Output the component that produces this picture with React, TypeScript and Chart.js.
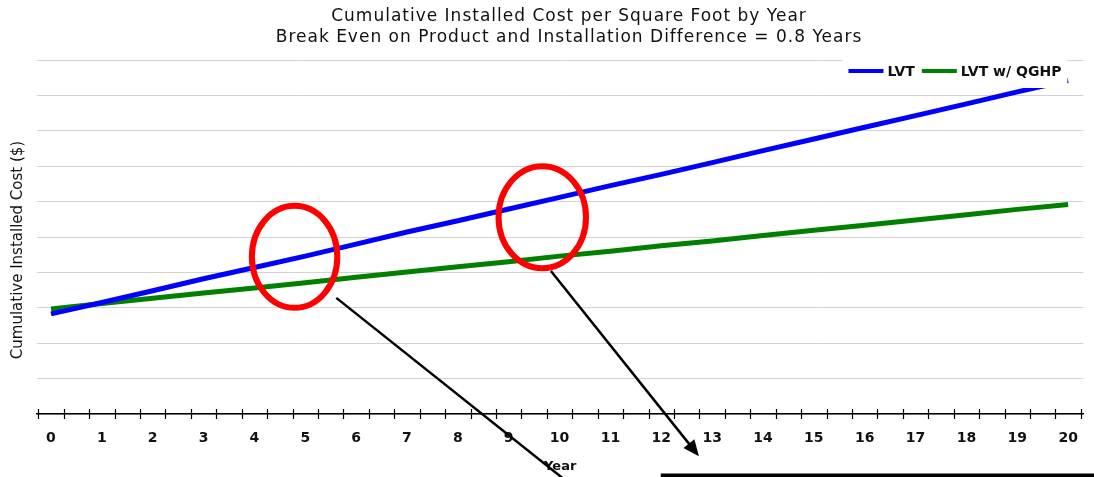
import React, { useEffect, useRef } from "react";
import { Chart, registerables } from "chart.js";

Chart.register(...registerables);

// ---------- data ----------
const YEARS = [0, 1, 2, 3, 4, 5, 6, 7, 8, 9, 10, 11, 12, 13, 14, 15, 16, 17, 18, 19, 20];
const LVT = [2.83, 3.15, 3.48, 3.82, 4.14, 4.46, 4.80, 5.14, 5.46, 5.79, 6.12, 6.45, 6.77, 7.10, 7.44, 7.77, 8.10, 8.43, 8.76, 9.10, 9.42];
const LVT_QGHP = [2.97, 3.12, 3.27, 3.42, 3.56, 3.71, 3.86, 4.01, 4.16, 4.30, 4.46, 4.60, 4.75, 4.89, 5.04, 5.19, 5.33, 5.48, 5.63, 5.78, 5.92];
const SERIES_NAMES = ["LVT", "LVT w/ QGHP"];
const SERIES_COLORS = ["#0000FF", "#008000"];
const TITLE_LINES = [
  "Cumulative Installed Cost per Square Foot by Year",
  "Break Even on Product and Installation Difference = 0.8 Years",
];
const X_TITLE = "Year";
const Y_TITLE = "Cumulative Installed Cost ($)";
const Y_MIN = 0;
const Y_MAX = 10;
const X_MIN = -0.275;
const X_MAX = 20.3;

// annotation shapes, in data units
const ELLIPSES = [
  { x: 4.79, y: 4.44, rx: 0.84, ry: 1.44 },
  { x: 9.66, y: 5.56, rx: 0.86, ry: 1.44 },
];
const ARROWS = [
  { x1: 5.61, y1: 3.28, x2: 10.4, y2: -2.2, head: false },
  { x1: 9.83, y1: 4.04, x2: 12.74, y2: -1.19, head: true },
];
const BOTTOM_RULE = { x1: 11.99, x2: 20.6, y: -1.73 };

const FONT = '"DejaVu Sans", Verdana, sans-serif';

const decorPlugin = {
  id: "decor",
  afterDraw(chart: any) {
    const { ctx, chartArea, scales } = chart;
    const xs = scales.x;
    const ys = scales.y;
    ctx.save();

    // title
    ctx.fillStyle = "#111";
    ctx.font = `17px ${FONT}`;
    (ctx as any).letterSpacing = "1px";
    ctx.textAlign = "center";
    ctx.textBaseline = "middle";
    const cx = 569;
    ctx.fillText(TITLE_LINES[0], cx, 17);
    ctx.fillText(TITLE_LINES[1], cx, 38);
    (ctx as any).letterSpacing = "0px";

    // y title
    ctx.save();
    ctx.translate(18, 250);
    ctx.rotate(-Math.PI / 2);
    ctx.font = `15px ${FONT}`;
    ctx.fillStyle = "#111";
    ctx.textAlign = "center";
    ctx.textBaseline = "middle";
    ctx.fillText(Y_TITLE, 0, 0);
    ctx.restore();

    // x-axis tick marks (half-year offsets around each label)
    ctx.strokeStyle = "#000";
    ctx.lineWidth = 1.2;
    const axisY = ys.getPixelForValue(Y_MIN);
    YEARS.forEach((v) => {
      [v - 0.25, v + 0.25].forEach((t) => {
        const px = Math.round(xs.getPixelForValue(t)) + 0.5;
        ctx.beginPath();
        ctx.moveTo(px, axisY - 5);
        ctx.lineTo(px, axisY + 5);
        ctx.stroke();
      });
    });

    // legend
    ctx.font = `bold 14px ${FONT}`;
    const w0 = ctx.measureText(SERIES_NAMES[0]).width;
    const w1 = ctx.measureText(SERIES_NAMES[1]).width;
    const lineLen = 35;
    const gap = 4;
    const itemGap = 7;
    const total = lineLen + gap + w0 + itemGap + lineLen + gap + w1;
    const right = chartArea.right - 22;
    const left = right - total;
    const ly = 71;
    ctx.fillStyle = "#fff";
    ctx.fillRect(left - 6, 58, total + 12, 30);
    let lx = left;
    SERIES_NAMES.forEach((name, i) => {
      ctx.strokeStyle = SERIES_COLORS[i];
      ctx.lineWidth = 4;
      ctx.beginPath();
      ctx.moveTo(lx, ly);
      ctx.lineTo(lx + lineLen, ly);
      ctx.stroke();
      lx += lineLen + gap;
      ctx.fillStyle = "#111";
      ctx.textAlign = "left";
      ctx.textBaseline = "middle";
      ctx.fillText(name, lx, ly + 1);
      lx += (i === 0 ? w0 : w1) + itemGap;
    });

    // red ellipses
    ctx.strokeStyle = "#FF0000";
    ctx.lineWidth = 6;
    ELLIPSES.forEach((e) => {
      const px = xs.getPixelForValue(e.x);
      const py = ys.getPixelForValue(e.y);
      const rx = Math.abs(xs.getPixelForValue(e.x + e.rx) - px);
      const ry = Math.abs(ys.getPixelForValue(e.y + e.ry) - py);
      ctx.beginPath();
      ctx.ellipse(px, py, rx, ry, 0, 0, Math.PI * 2);
      ctx.stroke();
    });

    // arrows
    ctx.strokeStyle = "#000";
    ctx.fillStyle = "#000";
    ctx.lineWidth = 2.5;
    ARROWS.forEach((a) => {
      const x1 = xs.getPixelForValue(a.x1);
      const y1 = ys.getPixelForValue(a.y1);
      const x2 = xs.getPixelForValue(a.x2);
      const y2 = ys.getPixelForValue(a.y2);
      const ang = Math.atan2(y2 - y1, x2 - x1);
      const hl = 16;
      const hw = 7;
      const ex = a.head ? x2 - Math.cos(ang) * hl * 0.8 : x2;
      const ey = a.head ? y2 - Math.sin(ang) * hl * 0.8 : y2;
      ctx.beginPath();
      ctx.moveTo(x1, y1);
      ctx.lineTo(ex, ey);
      ctx.stroke();
      if (a.head) {
        const bx = x2 - Math.cos(ang) * hl;
        const by = y2 - Math.sin(ang) * hl;
        ctx.beginPath();
        ctx.moveTo(x2, y2);
        ctx.lineTo(bx + Math.sin(ang) * hw, by - Math.cos(ang) * hw);
        ctx.lineTo(bx - Math.sin(ang) * hw, by + Math.cos(ang) * hw);
        ctx.closePath();
        ctx.fill();
      }
    });

    // bottom rule
    ctx.lineWidth = 3.5;
    ctx.beginPath();
    const ry0 = ys.getPixelForValue(BOTTOM_RULE.y);
    ctx.moveTo(xs.getPixelForValue(BOTTOM_RULE.x1), ry0);
    ctx.lineTo(xs.getPixelForValue(BOTTOM_RULE.x2), ry0);
    ctx.stroke();

    ctx.restore();
  },
};

export default function App() {
  const canvasRef = useRef<HTMLCanvasElement | null>(null);

  useEffect(() => {
    if (!canvasRef.current) return;
    const chart = new Chart(canvasRef.current, {
      type: "line",
      data: {
        datasets: [
          {
            label: SERIES_NAMES[0],
            data: YEARS.map((x, i) => ({ x, y: LVT[i] })),
            borderColor: SERIES_COLORS[0],
            backgroundColor: SERIES_COLORS[0],
            borderWidth: 5,
            pointRadius: 0,
            tension: 0,
          },
          {
            label: SERIES_NAMES[1],
            data: YEARS.map((x, i) => ({ x, y: LVT_QGHP[i] })),
            borderColor: SERIES_COLORS[1],
            backgroundColor: SERIES_COLORS[1],
            borderWidth: 5,
            pointRadius: 0,
            tension: 0,
          },
        ],
      },
      options: {
        responsive: false,
        animation: false,
        devicePixelRatio: 1,
        layout: { padding: { top: 60, right: 8, left: 0, bottom: 0 } },
        plugins: {
          legend: { display: false },
          title: { display: false },
          tooltip: { enabled: false },
        },
        scales: {
          x: {
            type: "linear",
            min: X_MIN,
            max: X_MAX,
            afterBuildTicks: (s: any) => {
              s.ticks = YEARS.map((v) => ({ value: v }));
            },
            grid: { display: false, drawTicks: false },
            border: { display: true, color: "#000", width: 1.5 },
            ticks: {
              color: "#111",
              font: { family: FONT, size: 14, weight: "bold" },
              padding: 16,
              autoSkip: false,
              maxRotation: 0,
              callback: (v: any) => String(v),
            },
            title: {
              display: true,
              text: X_TITLE,
              color: "#111",
              font: { family: FONT, size: 13, weight: "bold" },
              padding: { top: 0, bottom: 3 },
            },
            afterFit: (s: any) => {
              s.height = 63;
            },
          },
          y: {
            min: Y_MIN,
            max: Y_MAX,
            ticks: { display: false, stepSize: 1 },
            grid: { color: "#d2d2d2", lineWidth: 1, drawTicks: false },
            border: { display: false },
            title: { display: false },
            afterFit: (s: any) => {
              s.width = 37;
            },
          },
        },
      } as any,
      plugins: [decorPlugin],
    });
    return () => chart.destroy();
  }, []);

  return (
    <div style={{ position: "fixed", left: 0, top: 0, width: 1094, height: 477, background: "#fff" }}>
      <canvas ref={canvasRef} width={1094} height={477} style={{ display: "block" }} />
    </div>
  );
}
